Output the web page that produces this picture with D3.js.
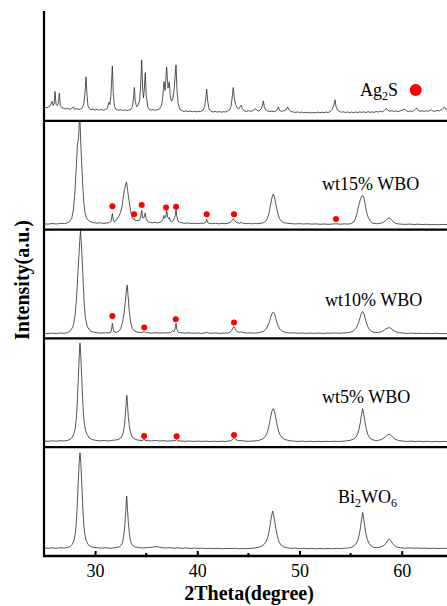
<!DOCTYPE html>
<html>
<head>
<meta charset="utf-8">
<script src="https://cdn.jsdelivr.net/npm/d3@7"></script>
<style>
  html, body { margin: 0; padding: 0; background: #fff; }
  svg { display: block; }
  text { font-family: "Liberation Serif", "Times New Roman", serif; fill: #000; }
</style>
</head>
<body>
<svg id="chart" width="447" height="606"></svg>
<script>
// 2θ range and axis ticks
const angleDomain = [25, 65];
const majorTicks = [30, 40, 50, 60];
const minorTicks = [35, 45, 55];

// Stacked patterns, top to bottom. Intensity in arbitrary units (0–100 per panel).
const patternAg2S = [
  [25.0,12.5],[25.3,12.0],[25.6,13.5],[25.8,18],[25.9,14],[26.0,16],[26.08,26.9],[26.18,15],[26.3,14],[26.4,16],
  [26.5,25.4],[26.6,14],[26.75,12],[26.95,11.5],[27.1,10.8],[27.3,11.5],[27.5,10.6],[27.7,11.2],[27.87,12.8],[28.0,10.5],
  [28.2,11.3],[28.4,10.4],[28.6,11],[28.75,12],[28.9,16],[29.0,25],[29.11,40.4],[29.2,25],[29.3,14],[29.45,11],
  [29.6,10.2],[29.8,10.8],[30.0,10.0],[30.2,10.6],[30.4,9.8],[30.6,10.4],[30.8,9.7],[31.0,10.3],[31.2,11.5],[31.35,17],
  [31.45,15],[31.55,24],[31.69,50.5],[31.78,25],[31.9,13],[32.05,10.5],[32.3,9.8],[32.5,10.2],[32.7,9.4],[32.9,10.0],
  [33.1,9.3],[33.3,9.9],[33.5,10.5],[33.65,13],[33.75,20],[33.84,30.6],[33.93,18],[34.05,13],[34.2,14],[34.35,18],
  [34.45,30],[34.56,56],[34.66,28],[34.74,21],[34.82,30],[34.91,44.3],[35.0,24],[35.15,13],[35.3,10.5],[35.5,9.8],
  [35.7,10.3],[35.9,9.6],[36.1,10.2],[36.3,10.8],[36.5,14],[36.62,22],[36.74,36],[36.85,28],[37.0,49.5],[37.13,30],
  [37.26,35.8],[37.35,24],[37.45,18],[37.6,20],[37.75,30],[37.85,44],[37.92,51.4],[38.0,30],[38.12,16],[38.3,10.5],
  [38.5,9.2],[38.7,8.6],[38.9,9.2],[39.1,8.4],[39.3,9.0],[39.5,8.3],[39.7,8.9],[39.9,8.2],[40.1,8.8],[40.3,8.4],
  [40.55,9.6],[40.72,13],[40.82,20],[40.92,29],[41.02,18],[41.15,11],[41.35,8.6],[41.55,8.1],[41.75,8.7],[41.95,8.0],
  [42.15,8.5],[42.35,7.9],[42.55,8.4],[42.75,8.1],[42.95,8.8],[43.15,10],[43.3,13],[43.42,22],[43.52,30.6],[43.62,21],
  [43.75,15],[43.9,12],[44.05,11],[44.2,13],[44.3,14.4],[44.42,11],[44.6,9.2],[44.8,8.5],[45.0,9.4],[45.2,8.7],
  [45.4,9.2],[45.55,10],[45.7,11.2],[45.85,9.5],[46.05,9.0],[46.25,11],[46.38,14],[46.46,18.3],[46.56,13],[46.7,10],
  [46.9,9.0],[47.1,8.4],[47.3,8.9],[47.5,8.3],[47.7,9.0],[47.85,10.6],[47.93,12.8],[48.05,9.6],[48.25,8.7],[48.45,9.2],
  [48.65,9.8],[48.84,12.8],[48.98,10],[49.15,8.6],[49.4,8.1],[49.6,7.6],[49.8,8.2],[50.0,7.5],[50.2,8.0],[50.4,7.4],
  [50.6,7.9],[50.8,7.3],[51.0,7.8],[51.2,7.2],[51.4,7.7],[51.6,7.3],[51.8,8.0],[52.0,7.4],[52.2,7.9],[52.4,7.5],
  [52.6,8.1],[52.8,7.6],[53.0,8.4],[53.2,10.5],[53.35,14],[53.47,19.3],[53.58,13],[53.72,10],[53.9,8.6],[54.1,7.9],
  [54.3,8.3],[54.5,7.6],[54.7,8.2],[54.9,7.5],[55.1,8.0],[55.3,7.4],[55.5,8.1],[55.7,7.6],[55.9,8.2],[56.1,7.7],
  [56.3,8.3],[56.5,7.6],[56.7,8.4],[56.9,7.8],[57.1,8.2],[57.3,7.7],[57.5,8.6],[57.7,8.0],[57.9,8.8],[58.1,8.2],
  [58.3,9.4],[58.5,11.5],[58.65,9.6],[58.85,8.8],[59.05,9.4],[59.25,8.6],[59.45,9.2],[59.65,8.5],[59.85,9.1],[60.05,9.6],
  [60.3,10.8],[60.45,9.2],[60.65,8.4],[60.85,9.0],[61.05,8.6],[61.25,9.8],[61.47,11.7],[61.62,9.4],[61.8,8.7],[62.0,9.3],
  [62.2,8.6],[62.4,9.2],[62.6,8.8],[62.75,9.4],[62.9,10],[63.05,9.0],[63.25,8.6],[63.45,9.6],[63.65,9.0],[63.85,10],
  [64.0,11],[64.2,12.7],[64.35,10],[64.55,9.0],[64.8,9.4],[65.0,9.0]
];

const patternWt15 = [
  [25.0,5.4],[25.4,5.0],[25.8,5.6],[26.2,5.1],[26.6,5.7],[27.0,5.5],[27.4,6.5],[27.7,10],[27.88,18],[28.03,35],
  [28.15,56],[28.26,77],[28.38,83.5],[28.46,101],[28.52,101],[28.58,84],[28.68,62],[28.79,40.7],[28.9,25],[29.0,16],
  [29.15,11],[29.34,8.5],[29.6,7],[29.9,6.3],[30.2,5.9],[30.5,6.2],[30.8,5.7],[31.1,6.0],[31.35,6.3],[31.55,7.5],
  [31.62,11],[31.69,14.7],[31.76,10],[31.85,7.2],[31.98,7.6],[32.1,9],[32.3,12],[32.5,16],[32.65,22],[32.76,30],
  [32.88,37],[32.98,41],[33.07,43.7],[33.15,39],[33.25,31],[33.35,25],[33.48,17],[33.6,12],[33.7,10],[33.78,9.6],
  [33.84,10.2],[33.92,8.2],[34.05,8.4],[34.2,8.0],[34.35,8.6],[34.45,11.5],[34.56,17.7],[34.65,11],[34.75,10.5],[34.83,12.5],
  [34.91,15.3],[35.0,10],[35.15,7.4],[35.35,6.5],[35.6,6.2],[35.85,6.6],[36.1,6.2],[36.35,6.7],[36.55,8],[36.66,10],
  [36.74,13],[36.82,10.5],[36.92,12],[37.0,17.7],[37.1,11.5],[37.2,10],[37.26,11],[37.35,8],[37.5,7.6],[37.65,8.4],
  [37.78,11],[37.86,14],[37.92,18.5],[38.0,12],[38.1,8],[38.25,6.8],[38.5,6.2],[38.8,5.8],[39.1,6.1],[39.4,5.6],
  [39.7,5.9],[40.0,5.5],[40.3,5.9],[40.6,5.7],[40.8,6.5],[40.92,9.4],[41.02,6.4],[41.2,5.7],[41.5,5.4],[41.8,5.8],
  [42.1,5.3],[42.4,5.7],[42.7,5.4],[43.0,5.9],[43.2,6.4],[43.35,7.6],[43.45,9],[43.52,10],[43.62,8.6],[43.78,6.8],
  [43.95,6.2],[44.15,6.0],[44.3,6.6],[44.45,5.9],[44.7,5.4],[45.0,5.7],[45.3,5.3],[45.6,5.6],[45.9,5.4],[46.2,5.8],
  [46.5,6.4],[46.7,7.8],[46.85,10],[46.97,13.5],[47.08,18],[47.2,24],[47.32,30],[47.44,32.7],[47.55,30],[47.66,24.5],
  [47.78,19],[47.9,14],[48.05,10],[48.25,7.6],[48.5,6.3],[48.8,5.8],[49.2,5.5],[49.6,5.2],[50.0,5.5],[50.4,5.1],
  [50.8,5.4],[51.2,5.0],[51.6,5.3],[52.0,4.9],[52.4,5.2],[52.8,4.8],[53.2,5.1],[53.6,5.4],[54.0,4.9],[54.4,5.3],
  [54.8,5.0],[55.1,5.8],[55.3,7],[55.45,9.5],[55.6,14],[55.72,19],[55.85,24],[55.98,28.5],[56.1,30.8],[56.18,31.2],
  [56.27,30],[56.38,25.5],[56.5,19],[56.62,14],[56.78,10],[56.95,7.6],[57.1,6.2],[57.3,5.6],[57.6,5.4],[57.9,5.7],
  [58.15,6.5],[58.4,8],[58.6,10],[58.79,10.7],[58.95,9.6],[59.15,7.4],[59.4,5.8],[59.7,5.2],[60.0,5.0],[60.4,4.8],
  [60.8,5.1],[61.2,4.7],[61.6,5.0],[62.0,4.6],[62.4,4.9],[62.8,4.5],[63.2,4.8],[63.6,4.5],[64.0,4.8],[64.5,4.5],
  [65.0,4.7]
];

const patternWt10 = [
  [25.0,4.8],[25.4,4.4],[25.8,4.9],[26.2,4.5],[26.6,5.0],[27.0,4.7],[27.3,5.3],[27.55,6.8],[27.72,9],[27.87,12],
  [28.0,18],[28.1,27],[28.2,40],[28.3,57],[28.42,76.4],[28.5,90],[28.57,99],[28.65,88],[28.75,70],[28.85,48],
  [28.94,30.6],[29.05,19],[29.24,10.7],[29.5,7.2],[29.8,5.8],[30.2,5.2],[30.6,4.8],[31.0,5.2],[31.35,5.0],[31.55,6.0],
  [31.63,9.5],[31.69,13.8],[31.76,9],[31.86,6.0],[32.05,5.6],[32.3,6.4],[32.5,8.8],[32.6,12],[32.72,16.5],[32.83,23],
  [32.92,30.6],[33.02,40],[33.1,47],[33.15,49],[33.22,40],[33.35,24.5],[33.48,15],[33.64,9.2],[33.85,6.8],[34.1,5.8],
  [34.4,5.4],[34.65,5.6],[34.76,6.2],[34.83,6.1],[34.92,5.8],[35.1,5.2],[35.5,4.9],[35.9,5.2],[36.3,4.8],[36.7,5.1],
  [37.1,5.0],[37.4,5.5],[37.6,7.2],[37.7,6.2],[37.8,8],[37.86,11],[37.92,13.8],[38.0,8.5],[38.12,5.8],[38.4,5.2],
  [38.8,4.8],[39.2,5.1],[39.6,4.7],[40.0,5.0],[40.4,4.6],[40.75,5.0],[40.92,5.8],[41.08,4.9],[41.4,4.7],[41.8,5.0],
  [42.2,4.6],[42.6,4.9],[43.0,5.0],[43.2,5.8],[43.35,7.2],[43.48,9.5],[43.58,10.7],[43.68,9.2],[43.8,7.0],[43.98,5.8],
  [44.2,5.6],[44.32,6.2],[44.45,5.5],[44.8,4.8],[45.2,5.1],[45.6,4.8],[46.0,5.2],[46.3,5.9],[46.55,7],[46.78,9.2],
  [46.95,12.5],[47.1,16.5],[47.22,20.5],[47.34,23.5],[47.44,24.2],[47.54,23],[47.65,19.5],[47.78,15],[47.93,11],[48.1,8.2],
  [48.35,6.4],[48.7,5.4],[49.1,4.9],[49.5,5.1],[49.9,4.7],[50.3,5.0],[50.7,4.6],[51.1,4.9],[51.5,4.6],[51.9,4.9],
  [52.3,4.6],[52.7,4.9],[53.1,4.7],[53.5,5.0],[53.9,4.7],[54.3,5.0],[54.7,5.2],[55.0,5.8],[55.25,6.8],[55.45,8.4],
  [55.63,11],[55.8,15],[55.94,19.5],[56.06,23],[56.18,24.8],[56.28,23.5],[56.4,19.5],[56.53,15],[56.67,11],[56.85,8],
  [57.1,6.2],[57.4,5.4],[57.7,5.5],[58.0,6.1],[58.25,7.3],[58.45,8.8],[58.65,9.6],[58.79,9.8],[58.95,9.2],[59.12,7.8],
  [59.35,6.3],[59.7,5.3],[60.1,4.9],[60.5,4.6],[60.9,4.9],[61.3,4.5],[61.7,4.8],[62.1,4.4],[62.5,4.7],[62.9,4.4],
  [63.3,4.7],[63.7,4.4],[64.1,4.6],[64.5,4.3],[65.0,4.6]
];

const patternWt5 = [
  [25.0,5.8],[25.4,5.4],[25.8,5.9],[26.2,5.5],[26.6,6.0],[27.0,5.7],[27.3,6.3],[27.55,7.2],[27.75,9],[27.93,12.5],
  [28.07,18],[28.18,28],[28.27,44],[28.36,64],[28.45,84],[28.52,95.7],[28.6,84],[28.69,64],[28.78,44],[28.88,28],
  [29.0,18],[29.17,12.5],[29.43,8.5],[29.75,7],[30.1,6.2],[30.5,5.8],[30.9,6.1],[31.3,5.7],[31.7,6.3],[32.0,6.6],
  [32.3,7.2],[32.5,8.4],[32.65,10.5],[32.77,14],[32.87,20],[32.95,28],[33.02,38],[33.1,47.7],[33.18,38],[33.25,28],
  [33.34,20],[33.45,14],[33.58,10.5],[33.75,8.3],[34.0,7.0],[34.3,6.4],[34.6,6.0],[34.72,6.6],[34.8,7.4],[34.88,6.4],
  [35.1,6.0],[35.5,5.8],[35.9,6.1],[36.3,5.7],[36.7,6.0],[37.1,5.6],[37.5,5.9],[37.85,6.0],[37.96,7.2],[38.06,6.0],
  [38.4,5.7],[38.8,5.4],[39.2,5.7],[39.6,5.3],[40.0,5.6],[40.4,5.3],[40.8,5.6],[41.2,5.2],[41.6,5.5],[42.0,5.2],
  [42.4,5.5],[42.8,5.3],[43.2,5.8],[43.42,6.8],[43.55,8.2],[43.65,8.5],[43.78,7.0],[44.0,6.0],[44.3,6.2],[44.6,5.6],
  [45.0,5.4],[45.4,5.7],[45.8,5.9],[46.1,6.5],[46.4,7.6],[46.62,9.5],[46.8,12.5],[46.95,17],[47.08,23],[47.2,29],
  [47.32,33.5],[47.44,35.5],[47.55,33],[47.66,28],[47.78,22],[47.92,16],[48.08,11.5],[48.3,8.5],[48.6,7],[49.0,6.1],
  [49.4,5.6],[49.8,5.3],[50.2,5.6],[50.6,5.2],[51.0,5.5],[51.4,5.1],[51.8,5.4],[52.2,5.1],[52.6,5.4],[53.0,5.2],
  [53.4,5.5],[53.8,5.2],[54.2,5.5],[54.6,5.8],[55.0,6.4],[55.3,7.5],[55.5,9],[55.68,12],[55.83,17],[55.96,23],
  [56.07,30],[56.18,35.5],[56.28,31],[56.4,24],[56.53,17],[56.67,12],[56.85,8.8],[57.1,7],[57.4,6.2],[57.7,6.3],
  [58.0,7],[58.25,8.4],[58.45,10],[58.65,11.5],[58.8,11.9],[58.95,11],[59.12,9.2],[59.35,7.4],[59.7,6.2],[60.1,5.6],
  [60.5,5.3],[60.9,5.6],[61.3,5.2],[61.7,5.5],[62.1,5.1],[62.5,5.4],[62.9,5.0],[63.3,5.3],[63.7,5.0],[64.1,5.3],
  [64.5,5.0],[65.0,5.2]
];

const patternBi2WO6 = [
  [25.0,7.4],[25.4,7.0],[25.8,7.5],[26.2,7.1],[26.6,7.6],[27.0,7.3],[27.3,7.8],[27.55,8.6],[27.75,10.5],[27.92,14],
  [28.05,20],[28.16,30],[28.26,48],[28.35,68],[28.44,86],[28.52,94.8],[28.6,86],[28.69,68],[28.78,48],[28.88,30],
  [29.0,20],[29.13,14],[29.32,10.5],[29.55,8.8],[29.85,7.9],[30.2,7.6],[30.6,7.2],[31.0,7.6],[31.4,7.1],[31.8,7.5],
  [32.1,7.9],[32.35,8.3],[32.52,9.6],[32.64,11.5],[32.74,15],[32.84,22],[32.93,31],[33.01,43],[33.09,55],[33.17,43],
  [33.25,31],[33.34,22],[33.44,15],[33.55,11.5],[33.68,9.6],[33.88,8.4],[34.2,7.9],[34.6,7.4],[35.0,7.6],[35.4,7.9],
  [35.7,8.3],[35.95,8.6],[36.2,8.3],[36.5,7.7],[36.9,7.4],[37.3,7.6],[37.7,7.2],[38.1,7.5],[38.5,7.1],[38.9,7.4],
  [39.3,7.0],[39.7,7.3],[40.1,6.9],[40.5,7.2],[40.9,6.8],[41.3,7.1],[41.7,6.8],[42.1,7.0],[42.5,6.7],[42.9,7.0],
  [43.3,6.8],[43.7,7.1],[44.1,6.7],[44.5,6.9],[44.9,6.8],[45.3,7.1],[45.7,7.4],[46.0,8.0],[46.3,9],[46.55,10.8],
  [46.75,13.5],[46.92,18],[47.05,24],[47.17,31],[47.28,37.5],[47.38,41.3],[47.48,37.5],[47.59,31],[47.71,24],[47.84,18],
  [48.0,13],[48.2,10],[48.45,8.4],[48.8,7.5],[49.2,7.0],[49.6,7.3],[50.0,6.8],[50.4,7.1],[50.8,6.7],[51.2,7.0],
  [51.6,6.6],[52.0,6.9],[52.4,6.6],[52.8,6.9],[53.2,6.7],[53.6,7.0],[54.0,6.8],[54.4,7.1],[54.8,7.4],[55.1,8],
  [55.35,9.5],[55.55,11.5],[55.72,15],[55.86,20],[55.98,27],[56.08,34],[56.18,40],[56.28,34],[56.39,27],[56.51,20],
  [56.64,15],[56.8,11.5],[57.0,9.2],[57.25,8],[57.55,7.6],[57.85,8.0],[58.1,8.8],[58.3,10],[58.48,12],[58.65,14.5],
  [58.79,15.6],[58.93,14.2],[59.1,11.5],[59.3,9.5],[59.55,8.2],[59.9,7.6],[60.3,7.2],[60.7,7.5],[61.1,7.1],[61.5,7.4],
  [61.9,7.0],[62.3,7.3],[62.7,6.9],[63.1,7.2],[63.5,6.8],[63.9,7.1],[64.3,6.9],[64.7,7.2],[65.0,7.0]
];

// Ag2S reflections flagged in the composite patterns: [2θ, marker height]
const markersWt15 = [[31.69,21.4],[33.81,14],[34.56,22.7],[36.94,20.2],[37.92,21.1],[40.92,14],[43.59,14],[53.57,9.8]];
const markersWt10 = [[31.69,20.5],[34.81,10.1],[37.89,17.7],[43.59,14.7]];
const markersWt5 = [[34.79,10.4],[37.98,10.1],[43.59,11.3]];

const panels = [
  { data: patternAg2S,   markers: [],          label: { parts: [["Ag"], ["2", true], ["S"]], x: 360, y: 96 } },
  { data: patternWt15,   markers: markersWt15, label: { parts: [["wt15% WBO"]], x: 322, y: 190 } },
  { data: patternWt10,   markers: markersWt10, label: { parts: [["wt10% WBO"]], x: 325, y: 306 } },
  { data: patternWt5,    markers: markersWt5,  label: { parts: [["wt5% WBO"]],  x: 322, y: 403 } },
  { data: patternBi2WO6, markers: [],          label: { parts: [["Bi"], ["2", true], ["WO"], ["6", true]], x: 338, y: 503 } }
];

const svg = d3.select("#chart");
const W = 447;
const plotLeft = 44, plotTop = 12, plotBottom = 556;
const pxPerDeg = 10.22;

const x = d3.scaleLinear()
  .domain(angleDomain)
  .range([plotLeft, plotLeft + (angleDomain[1] - angleDomain[0]) * pxPerDeg]);

const band = d3.scaleBand()
  .domain(d3.range(panels.length))
  .range([plotTop, plotBottom])
  .paddingInner(0).paddingOuter(0);

const defs = svg.append("defs");

panels.forEach((p, i) => {
  const top = band(i), h = band.bandwidth();
  const y = d3.scaleLinear().domain([0, 100]).range([top + h, top]);

  defs.append("clipPath").attr("id", "clip" + i)
    .append("rect").attr("x", plotLeft).attr("y", top).attr("width", W).attr("height", h);

  const line = d3.line().x(d => x(d[0])).y(d => y(d[1]));

  const g = svg.append("g").attr("clip-path", `url(#clip${i})`);
  g.append("path")
    .datum(p.data)
    .attr("d", line)
    .attr("fill", "none")
    .attr("stroke", "#2a2a2a")
    .attr("stroke-width", 0.8)
    .attr("stroke-linejoin", "round");

  g.selectAll("circle.mk")
    .data(p.markers)
    .join("circle")
    .attr("class", "mk")
    .attr("cx", d => x(d[0]))
    .attr("cy", d => y(d[1]))
    .attr("r", 3)
    .attr("fill", "#ff0000");

  // sample label with subscripts
  const t = svg.append("text")
    .attr("x", p.label.x)
    .attr("y", p.label.y)
    .attr("font-size", 18);
  let shifted = false;
  p.label.parts.forEach(([s, sub]) => {
    const ts = t.append("tspan").text(s);
    if (sub) { ts.attr("font-size", 12).attr("dy", 4); shifted = true; }
    else if (shifted) { ts.attr("dy", -4); shifted = false; }
  });

  // panel separator (bottom edge of each panel)
  svg.append("line")
    .attr("x1", plotLeft).attr("x2", W + 10)
    .attr("y1", top + h).attr("y2", top + h)
    .attr("stroke", "#000")
    .attr("stroke-width", i === panels.length - 1 ? 2.6 : 2.2);
});

// legend marker for Ag2S
svg.append("circle")
  .attr("cx", x(61.37)).attr("cy", 90)
  .attr("r", 6).attr("fill", "#ff0000");

// left axis line
svg.append("line")
  .attr("x1", plotLeft).attr("x2", plotLeft)
  .attr("y1", 11).attr("y2", plotBottom + 1.3)
  .attr("stroke", "#000").attr("stroke-width", 2.2);

// bottom axis: inward major ticks with labels
const axis = d3.axisBottom(x)
  .tickValues(majorTicks)
  .tickFormat(d3.format("d"))
  .tickSizeInner(-5)
  .tickSizeOuter(0)
  .tickPadding(8);

const ax = svg.append("g").attr("transform", `translate(0,${plotBottom})`).call(axis);
ax.select(".domain").remove();
ax.selectAll(".tick line").attr("stroke", "#000").attr("stroke-width", 2);
ax.selectAll(".tick text")
  .attr("font-family", "Liberation Serif, Times New Roman, serif")
  .attr("font-size", 18)
  .attr("fill", "#000");

// minor ticks
svg.selectAll("line.minor")
  .data(minorTicks)
  .join("line")
  .attr("class", "minor")
  .attr("x1", d => x(d)).attr("x2", d => x(d))
  .attr("y1", plotBottom).attr("y2", plotBottom - 3)
  .attr("stroke", "#000").attr("stroke-width", 2);

// axis titles
svg.append("text")
  .attr("x", 249).attr("y", 600)
  .attr("text-anchor", "middle")
  .attr("font-size", 20)
  .attr("font-weight", "bold")
  .text("2Theta(degree)");

svg.append("text")
  .attr("transform", "translate(29,280) rotate(-90)")
  .attr("text-anchor", "middle")
  .attr("font-size", 20)
  .attr("font-weight", "bold")
  .text("Intensity(a.u.)");
</script>
</body>
</html>
